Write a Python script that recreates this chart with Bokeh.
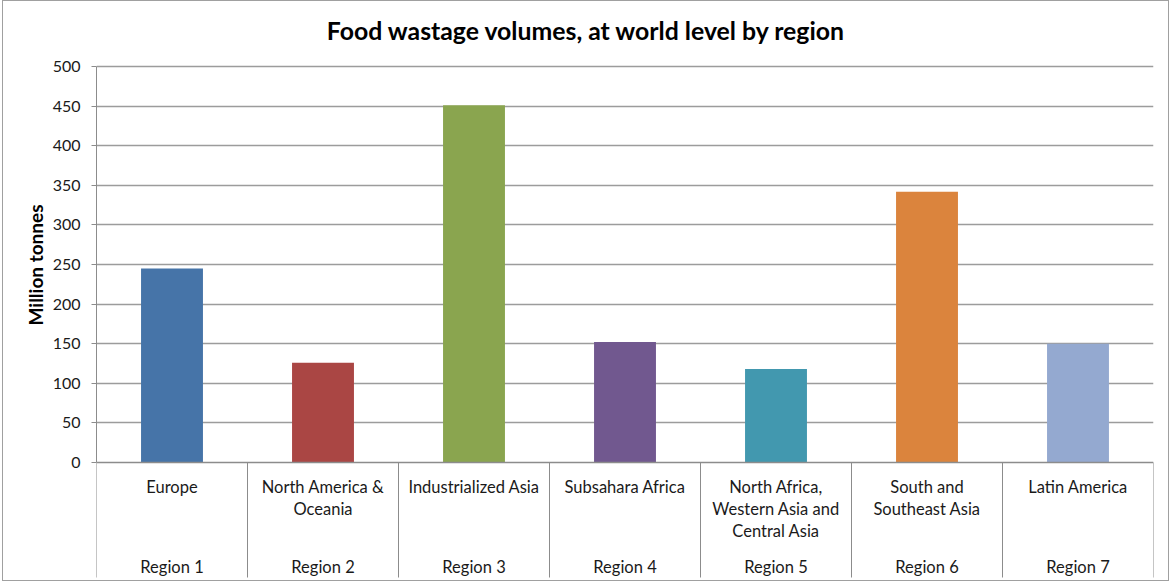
from bokeh.plotting import figure
from bokeh.models import Range1d, FixedTicker, ColumnDataSource, Title
from bokeh.core.properties import value
from bokeh.embed import file_html
from bokeh.resources import INLINE

title_text = "Food wastage volumes, at world level by region"
y_title = "Million tonnes"
categories = ["Europe", "North America &\nOceania", "Industrialized Asia", "Subsahara Africa",
              "North Africa,\nWestern Asia and\nCentral Asia", "South and\nSoutheast Asia", "Latin America"]
regions = ["Region 1", "Region 2", "Region 3", "Region 4", "Region 5", "Region 6", "Region 7"]
volumes = [245, 126, 451, 152, 118, 342, 150]
colors = ["#4674A8", "#AA4644", "#8AA54F", "#71588F", "#4298AF", "#DB843D", "#94A9D0"]
y_ticks = [0, 50, 100, 150, 200, 250, 300, 350, 400, 450, 500]

FONT = "Lato"
W, H = 1167, 581
LEFT, RIGHT = 93, 17
PX_PER = 396 / 500.0
y_top = 500 + 65 / PX_PER
y_bot = -(H - 461) / PX_PER

n = len(categories)
xs = [i + 0.5 for i in range(n)]

p = figure(width=W, height=H, output_backend="svg", toolbar_location=None,
           x_range=Range1d(0, n), y_range=Range1d(y_bot, y_top),
           min_border_left=LEFT, min_border_right=RIGHT, min_border_top=0, min_border_bottom=0)
p.styles = {"border": "1px solid #a0a0a0", "margin-left": "2px"}
p.outline_line_color = None
p.background_fill_color = "white"
p.border_fill_color = "white"
p.xaxis.visible = False
p.xgrid.visible = False

ya = p.yaxis[0]
ya.ticker = FixedTicker(ticks=y_ticks)
ya.bounds = (0, 500)
ya.axis_line_color = "#8c8c8c"
ya.major_tick_line_color = "#8c8c8c"
ya.major_tick_out = 5
ya.major_tick_in = 0
ya.minor_tick_line_color = None
ya.major_label_standoff = 11
ya.major_label_text_font = FONT
ya.major_label_text_font_size = "16px"
ya.major_label_text_color = "#1a1a1a"

# y axis title, placed alongside the value axis (0..500)
ytitle = Title(text=y_title, align="left", offset=257, text_font=FONT, text_font_style="bold",
               text_font_size="19px", text_color="#000000", standoff=6)
p.add_layout(ytitle, "left")

p.ygrid.ticker = FixedTicker(ticks=y_ticks[1:])
p.ygrid.grid_line_color = "#9c9c9c"
p.ygrid.grid_line_width = 1.3

src = ColumnDataSource(dict(x=xs, top=volumes, color=colors, cat=categories, reg=regions))
p.vbar(x="x", top="top", bottom=0, width=0.41, fill_color="color", line_color=None, source=src)

p.segment(x0=[0], y0=[0], x1=[n], y1=[0], line_color="#8c8c8c", line_width=1.3)
seps = list(range(n + 1))
p.segment(x0=seps, y0=[0] * len(seps), x1=seps, y1=[-(115 / PX_PER)] * len(seps),
          line_color="#8c8c8c", line_width=1)

p.text(x="x", y=-(14 / PX_PER), text="cat", source=src, text_align="center", text_baseline="top",
       text_font=value(FONT), text_font_size="16.5px", text_color="#1a1a1a", text_line_height=1.12)
p.text(x="x", y=-(104 / PX_PER), text="reg", source=src, text_align="center", text_baseline="middle",
       text_font=value(FONT), text_font_size="16.5px", text_color="#1a1a1a")

p.text(x=[(585 - 95) / 151.0], y=[500 + (65 - 29) / PX_PER], text=[title_text], text_align="center",
       text_baseline="middle", text_font=value(FONT), text_font_style="bold", text_font_size="24.8px",
       text_color="#000000")

open("out.html", "w").write(file_html(p, INLINE))
